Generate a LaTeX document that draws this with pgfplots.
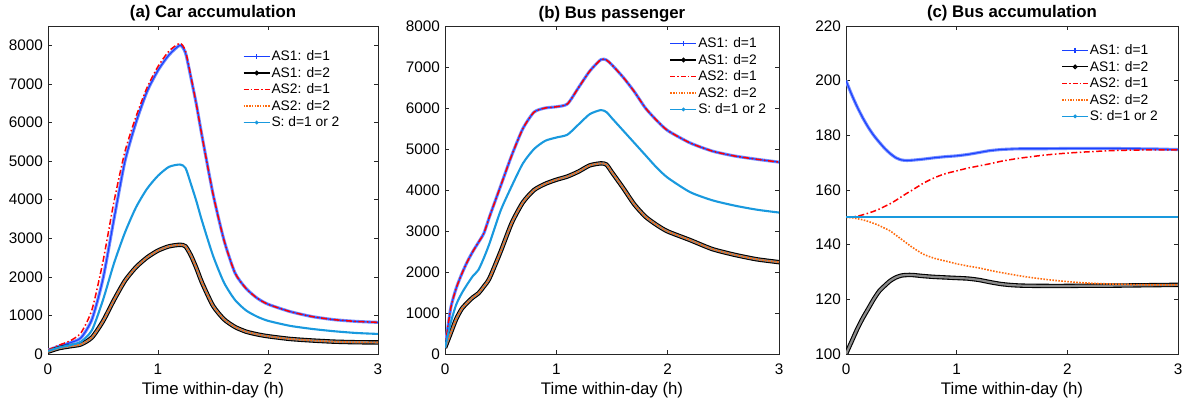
\documentclass[border=0pt]{standalone}
\usepackage{fontspec}
\setmainfont{Liberation Sans}
\usepackage{pgfplots}
\pgfplotsset{compat=1.18}
\usepackage{pgfplotstable}

\definecolor{cblue}{rgb}{0.1,0.25,1}
\definecolor{cbluehalo}{rgb}{0.45,0.55,1}
\definecolor{cred}{rgb}{1,0,0}
\definecolor{corange}{rgb}{1,0.42,0.05}
\definecolor{clight}{rgb}{0.1,0.6,0.87}
\definecolor{caxis}{rgb}{0.15,0.15,0.15}
\definecolor{cring}{rgb}{0.55,0.55,0.55}

\pgfplotstableread{
t b k r o s
0 100 60 100 60 80
0.1 200 150 230 150 170
0.2 290 200 340 200 230
0.3 420 250 550 250 320
0.4 900 430 1150 430 620
0.5 1950 850 2400 850 1400
0.6 3500 1400 3950 1400 2350
0.7 5000 1900 5250 1900 3150
0.8 6000 2250 6150 2250 3800
0.9 6800 2500 6900 2500 4280
1.0 7350 2680 7450 2680 4620
1.1 7750 2790 7850 2790 4850
1.2 8000 2830 8050 2830 4910
1.25 7800 2790 7850 2790 4820
1.3 7150 2550 7180 2550 4400
1.35 6450 2220 6450 2220 3950
1.4 5650 1850 5650 1850 3450
1.5 4150 1250 4150 1250 2550
1.6 2950 900 2950 900 1850
1.7 2100 700 2100 700 1400
1.8 1700 580 1700 580 1130
1.9 1450 510 1450 510 970
2.0 1290 460 1290 460 860
2.2 1100 390 1100 390 730
2.4 970 350 970 350 650
2.6 890 320 890 320 590
2.8 845 305 845 305 545
3.0 820 300 820 300 520
}\tabA

\pgfplotstableread{
t b k r o s
0 150 150 150 150 150
0.05 1100 500 1100 500 750
0.1 1600 850 1600 850 1200
0.15 1950 1100 1950 1100 1480
0.2 2250 1250 2250 1250 1700
0.25 2500 1380 2500 1380 1900
0.3 2720 1480 2720 1480 2050
0.35 2950 1650 2950 1650 2350
0.4 3350 1850 3350 1850 2700
0.5 4100 2500 4100 2500 3500
0.6 4850 3200 4850 3200 4100
0.7 5500 3700 5500 3700 4650
0.8 5900 4000 5900 4000 5000
0.9 6000 4150 6000 4150 5200
1.0 6030 4250 6030 4250 5280
1.1 6100 4330 6100 4330 5350
1.2 6500 4450 6500 4450 5600
1.3 6900 4600 6900 4600 5850
1.4 7180 4650 7180 4650 5950
1.45 7170 4620 7170 4620 5900
1.5 7050 4430 7050 4430 5750
1.6 6750 4050 6750 4050 5450
1.7 6400 3650 6400 3650 5150
1.8 6000 3350 6000 3350 4850
1.9 5700 3150 5700 3150 4550
2.0 5450 2990 5450 2990 4300
2.2 5150 2780 5150 2780 3950
2.4 4950 2560 4950 2560 3750
2.6 4830 2420 4830 2420 3620
2.8 4750 2310 4750 2310 3520
3.0 4680 2240 4680 2240 3450
}\tabB

\pgfplotstableread{
t b k r o s
0 200 100 150 150 150
0.05 195 104.5 150.1 149.9 150
0.1 190.5 109 150.4 149.5 150
0.15 186.5 113 150.9 149.1 150
0.2 183 116.5 151.5 148.5 150
0.25 180 120 152.2 147.8 150
0.3 177.5 123 153 147 150
0.35 175.2 125 154 146 150
0.4 173.3 126.8 155 145 150
0.45 171.8 128 156.2 143.5 150
0.5 171 128.7 157.5 142 150
0.55 170.8 128.9 158.8 140.5 150
0.6 170.9 128.9 160 139 150
0.7 171.3 128.5 162.5 136.5 150
0.8 171.8 128.2 164.5 135 150
0.9 172.2 128 166 134 150
1.0 172.5 127.8 167 133 150
1.1 173 127.6 168 132.2 150
1.2 173.7 127.1 168.8 131.5 150
1.3 174.4 126.3 169.6 130.6 150
1.4 174.8 125.6 170.5 129.8 150
1.5 175 125.2 171.2 129.1 150
1.6 175.1 125 171.8 128.4 150
1.8 175.1 124.9 172.8 127.3 150
2.0 175.2 124.9 173.5 126.5 150
2.2 175.2 125 174 125.9 150
2.4 175.2 125 174.4 125.6 150
2.6 175.1 125.1 174.6 125.4 150
2.8 175 125.2 174.7 125.3 150
3.0 174.8 125.3 174.7 125.3 150
}\tabC

\pgfplotsset{
 mystyle/.style={
  scale only axis, height=328pt, anchor=south west,
  xmin=0, xmax=3, xtick={0,1,2,3},
  axis line style={draw=caxis, line width=0.6pt},
  tick style={draw=caxis, line width=0.6pt},
  major tick length=4pt, tick align=inside,
  xtick pos=both, ytick pos=both,
  scaled y ticks=false,
  ticklabel style={font=\fontsize{15.3}{18}\selectfont},
  /pgf/number format/assume math mode=true,
  /pgf/number format/set thousands separator={},
  xticklabel style={anchor=base, yshift=-21pt},
  yticklabel style={anchor=east, inner sep=0pt, xshift=-5pt},
  xlabel={Time within-day (h)},
  xlabel style={font=\fontsize{16.8}{20}\selectfont, at={(axis description cs:0.5,0)}, anchor=base, yshift=-41pt},
  title style={font=\bfseries\fontsize{16.8}{20}\selectfont, at={(axis description cs:0.5,1)}, anchor=base, yshift=2pt},
  legend style={draw=none, fill=none, font=\fontsize{13.8}{16}\selectfont, anchor=north west, inner sep=0pt, row sep=3pt, nodes={inner sep=1pt}},
  legend cell align=left,
  legend image code/.code={\draw[mark repeat=2,mark phase=2,#1] plot coordinates {(0pt,0pt) (13pt,0pt) (26pt,0pt)};},
 },
}

\newcommand{\drawseries}[1]{%
 \addplot[draw=cbluehalo, line width=3.1pt, smooth, tension=0.4, forget plot] table[x=t,y=b]{#1};
 \addplot[draw=cblue, line width=1.1pt, smooth, tension=0.4, forget plot] table[x=t,y=b]{#1};
 \addplot[draw=black, line width=4.4pt, smooth, tension=0.4, forget plot] table[x=t,y=k]{#1};
 \addplot[draw=cring, line width=2.2pt, smooth, tension=0.4, forget plot] table[x=t,y=k]{#1};
 \addplot[draw=cred, line width=1.5pt, smooth, tension=0.4, dash pattern=on 6pt off 2.5pt on 1.5pt off 2.5pt, forget plot] table[x=t,y=r]{#1};
 \addplot[draw=corange, line width=1.6pt, smooth, tension=0.4, dash pattern=on 1.6pt off 1.4pt, forget plot] table[x=t,y=o]{#1};
 \addplot[draw=clight, line width=2.1pt, smooth, tension=0.4, forget plot] table[x=t,y=s]{#1};
 \addlegendimage{draw=cblue, line width=1.3pt, mark=+, mark size=2.4pt}
 \addlegendentry{AS1: d=1}
 \addlegendimage{draw=black, line width=1.3pt, mark=o, mark size=1.7pt}
 \addlegendentry{AS1: d=2}
 \addlegendimage{draw=cred, line width=1.6pt, dash pattern=on 5pt off 2pt on 1.5pt off 2pt}
 \addlegendentry{AS2: d=1}
 \addlegendimage{draw=corange, line width=1.6pt, dash pattern=on 1.5pt off 1.2pt}
 \addlegendentry{AS2: d=2}
 \addlegendimage{draw=clight, fill=clight, line width=1.4pt, mark=*, mark size=1.1pt}
 \addlegendentry{S: d=1 or 2}
}

\begin{document}
\begin{tikzpicture}
\path[use as bounding box] (0pt,0pt) rectangle (1188pt,403pt);

\begin{axis}[mystyle, at={(48pt,49pt)}, width=330pt,
  ymin=0, ymax=8500, ytick={0,1000,2000,3000,4000,5000,6000,7000,8000},
  title={(a) Car accumulation},
  legend style={at={(axis description cs:0.59,0.928)}}]
\drawseries{\tabA}
\end{axis}

\begin{axis}[mystyle, at={(445pt,49pt)}, width=334pt,
  ymin=0, ymax=8000, ytick={0,1000,2000,3000,4000,5000,6000,7000,8000},
  title={(b) Bus passenger},
  legend style={at={(axis description cs:0.672,0.968)}}]
\drawseries{\tabB}
\end{axis}

\begin{axis}[mystyle, at={(846pt,49pt)}, width=332pt,
  ymin=100, ymax=220, ytick={100,120,140,160,180,200,220},
  title={(c) Bus accumulation},
  legend style={at={(axis description cs:0.648,0.947)}}]
\drawseries{\tabC}
\end{axis}
\end{tikzpicture}
\end{document}
